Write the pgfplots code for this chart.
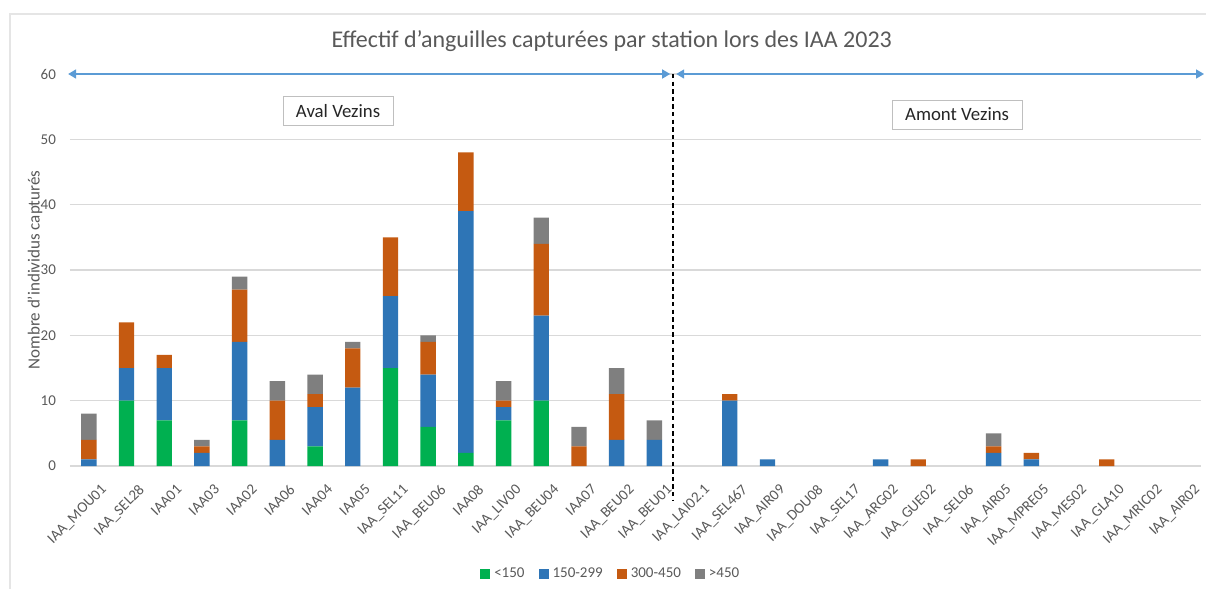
\documentclass[border=0pt]{standalone}
\usepackage{fontspec}
\setmainfont{Carlito}
\usepackage{pgfplots}
\usepackage{pgfplotstable}
\pgfplotsset{compat=1.18}
\usetikzlibrary{arrows.meta}
\definecolor{cgreen}{HTML}{00B050}
\definecolor{cblue}{HTML}{2E75B6}
\definecolor{corange}{HTML}{C55A11}
\definecolor{cgray}{HTML}{7F7F7F}
\definecolor{arrowblue}{HTML}{5B9BD5}
\definecolor{txtgray}{HTML}{595959}
\definecolor{gridgray}{HTML}{D9D9D9}
\pgfplotstableread{
idx g b o gr
0 0 1 3 4
1 10 5 7 0
2 7 8 2 0
3 0 2 1 1
4 7 12 8 2
5 0 4 6 3
6 3 6 2 3
7 0 12 6 1
8 15 11 9 0
9 6 8 5 1
10 2 37 9 0
11 7 2 1 3
12 10 13 11 4
13 0 0 3 3
14 0 4 7 4
15 0 4 0 3
16 0 0 0 0
17 0 10 1 0
18 0 1 0 0
19 0 0 0 0
20 0 0 0 0
21 0 1 0 0
22 0 0 1 0
23 0 0 0 0
24 0 2 1 2
25 0 1 1 0
26 0 0 0 0
27 0 0 1 0
28 0 0 0 0
29 0 0 0 0
}\datatable
\begin{document}
\begin{tikzpicture}
\useasboundingbox (-35pt,-61.5pt) rectangle (568pt,233pt);
\draw[gray!20, line width=1pt] (-30pt,-62pt) -- (-30pt,226pt) -- (570pt,226pt);
\begin{axis}[
  at={(0,0)}, anchor=south west,
  width=565.5pt, height=196pt, scale only axis,
  xmin=-0.5, xmax=29.5, ymin=0, ymax=60,
  ybar stacked, bar width=7.7pt,
  clip=false,
  axis line style={draw=none},
  major tick length=0pt,
  ytick={0,10,...,60},
  ymajorgrids, grid style={gridgray, line width=0.6pt},
  xtick={0,...,29},
  xticklabels={IAA\_MOU01,IAA\_SEL28,IAA01,IAA03,IAA02,IAA06,IAA04,IAA05,IAA\_SEL11,IAA\_BEU06,IAA08,IAA\_LIV00,IAA\_BEU04,IAA07,IAA\_BEU02,IAA\_BEU01,IAA\_LAI02.1,IAA\_SEL467,IAA\_AIR09,IAA\_DOU08,IAA\_SEL17,IAA\_ARG02,IAA\_GUE02,IAA\_SEL06,IAA\_AIR05,IAA\_MPRE05,IAA\_MES02,IAA\_GLA10,IAA\_MRIC02,IAA\_AIR02},
  x tick label style={rotate=45, anchor=north east, font=\fontsize{7.5}{8}\selectfont, text=txtgray, inner sep=1pt, yshift=-9pt, xshift=-1pt},
  y tick label style={font=\fontsize{7.5}{8}\selectfont, text=txtgray, anchor=east, xshift=-3.5pt},
  /pgf/number format/assume math mode=true,
  ylabel={Nombre d'individus capturés},
  every axis y label/.style={at={([xshift=-17.5pt]axis description cs:0,0.5)}, rotate=90, anchor=center, font=\fontsize{8.5}{9}\selectfont, text=txtgray},
  title={Effectif d'anguilles capturées par station lors des IAA 2023},
  title style={at={(axis description cs:0.479,1)}, anchor=center, yshift=10.5pt, font=\fontsize{12}{13}\selectfont, text=txtgray},
  legend style={at={(axis description cs:0.479,0)}, anchor=center, yshift=-54pt, draw=none, fill=none, font=\fontsize{7.5}{8}\selectfont, text=txtgray, legend columns=4, /tikz/every even column/.append style={column sep=5pt}},
  legend image code/.code={\fill[#1] (0pt,-2.5pt) rectangle (5pt,2.5pt);},
]
\addplot[fill=cgreen, draw=none] table[x=idx, y=g] {\datatable};
\addplot[fill=cblue, draw=none] table[x=idx, y=b] {\datatable};
\addplot[fill=corange, draw=none] table[x=idx, y=o] {\datatable};
\addplot[fill=cgray, draw=none] table[x=idx, y=gr] {\datatable};
\legend{<150,150-299,300-450,>450}
\draw[black, dash pattern=on 2.2pt off 1.6pt, line width=0.8pt] (axis cs:15.5,60) -- ([yshift=-17pt]axis cs:15.5,0);
\draw[arrowblue, line width=0.8pt, {Triangle[length=4pt,width=4.5pt]}-{Triangle[length=4pt,width=4.5pt]}] (axis cs:-0.55,60) -- (axis cs:15.42,60);
\draw[arrowblue, line width=0.8pt, {Triangle[length=4pt,width=4.5pt]}-{Triangle[length=4pt,width=4.5pt]}] (axis cs:15.58,60) -- (axis cs:29.58,60);
\node[draw=gray!50, fill=white, inner xsep=6.5pt, inner ysep=4pt, font=\fontsize{9.4}{10}\selectfont, text=black!85] at (axis cs:6.61,54.4) {Aval Vezins};
\node[draw=gray!50, fill=white, inner xsep=6.5pt, inner ysep=4pt, font=\fontsize{9.4}{10}\selectfont, text=black!85] at (axis cs:23.03,53.8) {Amont Vezins};
\end{axis}
\end{tikzpicture}
\end{document}
